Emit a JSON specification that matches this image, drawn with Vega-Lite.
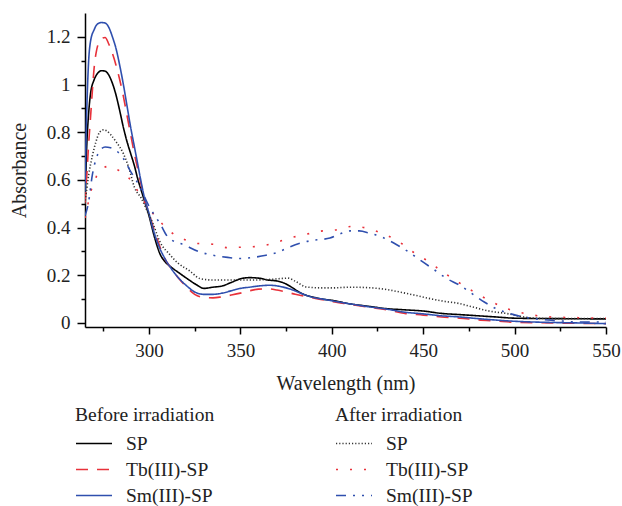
{
  "$schema": "https://vega.github.io/schema/vega-lite/v6.json",
  "autosize": "none",
  "width": 521,
  "height": 314,
  "padding": {"left": 85, "top": 13, "right": 16, "bottom": 179},
  "config": {
    "font": "Liberation Serif",
    "view": {"stroke": null},
    "axis": {
      "grid": false,
      "domainColor": "#000000",
      "domainWidth": 1.5,
      "tickColor": "#000000",
      "tickWidth": 1.5,
      "labelFontSize": 19,
      "labelColor": "#222222",
      "titleFontSize": 20,
      "titleFontWeight": "normal",
      "titleColor": "#222222"
    },
    "legend": {
      "titleFontSize": 19.5,
      "titleFontWeight": "normal",
      "titleColor": "#222222",
      "labelFontSize": 19.5,
      "labelColor": "#222222"
    }
  },
  "datasets": {
    "before": [
      {"s":"SP","w":265,"a":0.5},{"s":"SP","w":266,"a":0.75},{"s":"SP","w":267,"a":0.88},{"s":"SP","w":268,"a":0.96},{"s":"SP","w":270,"a":1.02},{"s":"SP","w":272,"a":1.048},{"s":"SP","w":274,"a":1.058},{"s":"SP","w":276,"a":1.056},{"s":"SP","w":278,"a":1.04},{"s":"SP","w":280,"a":1.005},{"s":"SP","w":282,"a":0.955},{"s":"SP","w":284,"a":0.89},{"s":"SP","w":286,"a":0.82},{"s":"SP","w":288,"a":0.76},{"s":"SP","w":290,"a":0.71},{"s":"SP","w":292,"a":0.66},{"s":"SP","w":294,"a":0.6},{"s":"SP","w":296,"a":0.55},{"s":"SP","w":298,"a":0.5},{"s":"SP","w":300,"a":0.45},{"s":"SP","w":303,"a":0.36},{"s":"SP","w":306,"a":0.29},{"s":"SP","w":309,"a":0.255},{"s":"SP","w":312,"a":0.235},{"s":"SP","w":317,"a":0.207},{"s":"SP","w":322,"a":0.18},{"s":"SP","w":326,"a":0.16},{"s":"SP","w":330,"a":0.145},{"s":"SP","w":335,"a":0.15},{"s":"SP","w":340,"a":0.155},{"s":"SP","w":345,"a":0.17},{"s":"SP","w":350,"a":0.185},{"s":"SP","w":355,"a":0.19},{"s":"SP","w":360,"a":0.188},{"s":"SP","w":365,"a":0.18},{"s":"SP","w":370,"a":0.176},{"s":"SP","w":373,"a":0.17},{"s":"SP","w":378,"a":0.15},{"s":"SP","w":382,"a":0.13},{"s":"SP","w":386,"a":0.116},{"s":"SP","w":390,"a":0.108},{"s":"SP","w":395,"a":0.1},{"s":"SP","w":400,"a":0.095},{"s":"SP","w":410,"a":0.08},{"s":"SP","w":420,"a":0.07},{"s":"SP","w":430,"a":0.06},{"s":"SP","w":440,"a":0.055},{"s":"SP","w":450,"a":0.05},{"s":"SP","w":460,"a":0.04},{"s":"SP","w":470,"a":0.035},{"s":"SP","w":480,"a":0.03},{"s":"SP","w":490,"a":0.025},{"s":"SP","w":500,"a":0.02},{"s":"SP","w":525,"a":0.018},{"s":"SP","w":550,"a":0.017},
      {"s":"Tb(III)-SP","w":265,"a":0.5},{"s":"Tb(III)-SP","w":266,"a":0.62},{"s":"Tb(III)-SP","w":267,"a":0.75},{"s":"Tb(III)-SP","w":268,"a":0.86},{"s":"Tb(III)-SP","w":269,"a":0.97},{"s":"Tb(III)-SP","w":270,"a":1.07},{"s":"Tb(III)-SP","w":271,"a":1.13},{"s":"Tb(III)-SP","w":272,"a":1.165},{"s":"Tb(III)-SP","w":274,"a":1.192},{"s":"Tb(III)-SP","w":276,"a":1.197},{"s":"Tb(III)-SP","w":278,"a":1.17},{"s":"Tb(III)-SP","w":280,"a":1.13},{"s":"Tb(III)-SP","w":282,"a":1.08},{"s":"Tb(III)-SP","w":284,"a":1.02},{"s":"Tb(III)-SP","w":286,"a":0.95},{"s":"Tb(III)-SP","w":288,"a":0.87},{"s":"Tb(III)-SP","w":290,"a":0.79},{"s":"Tb(III)-SP","w":292,"a":0.71},{"s":"Tb(III)-SP","w":294,"a":0.64},{"s":"Tb(III)-SP","w":296,"a":0.57},{"s":"Tb(III)-SP","w":298,"a":0.51},{"s":"Tb(III)-SP","w":300,"a":0.46},{"s":"Tb(III)-SP","w":302,"a":0.41},{"s":"Tb(III)-SP","w":305,"a":0.34},{"s":"Tb(III)-SP","w":308,"a":0.28},{"s":"Tb(III)-SP","w":312,"a":0.23},{"s":"Tb(III)-SP","w":316,"a":0.19},{"s":"Tb(III)-SP","w":320,"a":0.155},{"s":"Tb(III)-SP","w":325,"a":0.12},{"s":"Tb(III)-SP","w":330,"a":0.107},{"s":"Tb(III)-SP","w":335,"a":0.105},{"s":"Tb(III)-SP","w":340,"a":0.11},{"s":"Tb(III)-SP","w":345,"a":0.117},{"s":"Tb(III)-SP","w":350,"a":0.125},{"s":"Tb(III)-SP","w":355,"a":0.135},{"s":"Tb(III)-SP","w":360,"a":0.142},{"s":"Tb(III)-SP","w":365,"a":0.143},{"s":"Tb(III)-SP","w":370,"a":0.138},{"s":"Tb(III)-SP","w":375,"a":0.13},{"s":"Tb(III)-SP","w":380,"a":0.12},{"s":"Tb(III)-SP","w":385,"a":0.112},{"s":"Tb(III)-SP","w":390,"a":0.105},{"s":"Tb(III)-SP","w":395,"a":0.097},{"s":"Tb(III)-SP","w":400,"a":0.09},{"s":"Tb(III)-SP","w":410,"a":0.078},{"s":"Tb(III)-SP","w":420,"a":0.066},{"s":"Tb(III)-SP","w":430,"a":0.055},{"s":"Tb(III)-SP","w":440,"a":0.04},{"s":"Tb(III)-SP","w":450,"a":0.033},{"s":"Tb(III)-SP","w":460,"a":0.025},{"s":"Tb(III)-SP","w":470,"a":0.02},{"s":"Tb(III)-SP","w":480,"a":0.013},{"s":"Tb(III)-SP","w":490,"a":0.008},{"s":"Tb(III)-SP","w":500,"a":0.003},{"s":"Tb(III)-SP","w":520,"a":0.0},{"s":"Tb(III)-SP","w":550,"a":-0.003},
      {"s":"Sm(III)-SP","w":265,"a":0.55},{"s":"Sm(III)-SP","w":265.5,"a":0.75},{"s":"Sm(III)-SP","w":266,"a":0.9},{"s":"Sm(III)-SP","w":267,"a":1.1},{"s":"Sm(III)-SP","w":268,"a":1.18},{"s":"Sm(III)-SP","w":270,"a":1.23},{"s":"Sm(III)-SP","w":272,"a":1.255},{"s":"Sm(III)-SP","w":274,"a":1.26},{"s":"Sm(III)-SP","w":276,"a":1.258},{"s":"Sm(III)-SP","w":278,"a":1.24},{"s":"Sm(III)-SP","w":280,"a":1.2},{"s":"Sm(III)-SP","w":282,"a":1.15},{"s":"Sm(III)-SP","w":284,"a":1.08},{"s":"Sm(III)-SP","w":286,"a":1.0},{"s":"Sm(III)-SP","w":288,"a":0.91},{"s":"Sm(III)-SP","w":290,"a":0.82},{"s":"Sm(III)-SP","w":292,"a":0.74},{"s":"Sm(III)-SP","w":294,"a":0.66},{"s":"Sm(III)-SP","w":296,"a":0.58},{"s":"Sm(III)-SP","w":298,"a":0.51},{"s":"Sm(III)-SP","w":300,"a":0.46},{"s":"Sm(III)-SP","w":302,"a":0.4},{"s":"Sm(III)-SP","w":305,"a":0.33},{"s":"Sm(III)-SP","w":308,"a":0.28},{"s":"Sm(III)-SP","w":312,"a":0.23},{"s":"Sm(III)-SP","w":316,"a":0.19},{"s":"Sm(III)-SP","w":320,"a":0.16},{"s":"Sm(III)-SP","w":325,"a":0.13},{"s":"Sm(III)-SP","w":330,"a":0.12},{"s":"Sm(III)-SP","w":335,"a":0.12},{"s":"Sm(III)-SP","w":340,"a":0.125},{"s":"Sm(III)-SP","w":345,"a":0.135},{"s":"Sm(III)-SP","w":350,"a":0.145},{"s":"Sm(III)-SP","w":355,"a":0.15},{"s":"Sm(III)-SP","w":360,"a":0.155},{"s":"Sm(III)-SP","w":366,"a":0.158},{"s":"Sm(III)-SP","w":373,"a":0.151},{"s":"Sm(III)-SP","w":378,"a":0.14},{"s":"Sm(III)-SP","w":382,"a":0.128},{"s":"Sm(III)-SP","w":386,"a":0.116},{"s":"Sm(III)-SP","w":390,"a":0.107},{"s":"Sm(III)-SP","w":395,"a":0.1},{"s":"Sm(III)-SP","w":400,"a":0.093},{"s":"Sm(III)-SP","w":410,"a":0.08},{"s":"Sm(III)-SP","w":420,"a":0.068},{"s":"Sm(III)-SP","w":430,"a":0.058},{"s":"Sm(III)-SP","w":440,"a":0.045},{"s":"Sm(III)-SP","w":450,"a":0.038},{"s":"Sm(III)-SP","w":460,"a":0.03},{"s":"Sm(III)-SP","w":470,"a":0.025},{"s":"Sm(III)-SP","w":480,"a":0.018},{"s":"Sm(III)-SP","w":490,"a":0.012},{"s":"Sm(III)-SP","w":500,"a":0.007},{"s":"Sm(III)-SP","w":510,"a":0.004},{"s":"Sm(III)-SP","w":520,"a":0.002},{"s":"Sm(III)-SP","w":535,"a":0.0},{"s":"Sm(III)-SP","w":550,"a":-0.003}
    ],
    "after": [
      {"s":"SP","w":265,"a":0.5},{"s":"SP","w":267,"a":0.62},{"s":"SP","w":269,"a":0.7},{"s":"SP","w":271,"a":0.76},{"s":"SP","w":273,"a":0.8},{"s":"SP","w":275,"a":0.81},{"s":"SP","w":277,"a":0.805},{"s":"SP","w":279,"a":0.79},{"s":"SP","w":282,"a":0.76},{"s":"SP","w":286,"a":0.71},{"s":"SP","w":289,"a":0.65},{"s":"SP","w":292,"a":0.57},{"s":"SP","w":296,"a":0.52},{"s":"SP","w":299,"a":0.47},{"s":"SP","w":302,"a":0.42},{"s":"SP","w":306,"a":0.34},{"s":"SP","w":311,"a":0.29},{"s":"SP","w":316,"a":0.25},{"s":"SP","w":322,"a":0.22},{"s":"SP","w":328,"a":0.186},{"s":"SP","w":335,"a":0.18},{"s":"SP","w":345,"a":0.18},{"s":"SP","w":355,"a":0.18},{"s":"SP","w":365,"a":0.182},{"s":"SP","w":372,"a":0.186},{"s":"SP","w":376,"a":0.188},{"s":"SP","w":380,"a":0.175},{"s":"SP","w":386,"a":0.151},{"s":"SP","w":395,"a":0.147},{"s":"SP","w":400,"a":0.147},{"s":"SP","w":410,"a":0.15},{"s":"SP","w":420,"a":0.148},{"s":"SP","w":430,"a":0.14},{"s":"SP","w":437,"a":0.13},{"s":"SP","w":445,"a":0.117},{"s":"SP","w":455,"a":0.1},{"s":"SP","w":462,"a":0.09},{"s":"SP","w":468,"a":0.084},{"s":"SP","w":477,"a":0.067},{"s":"SP","w":486,"a":0.05},{"s":"SP","w":496,"a":0.039},{"s":"SP","w":505,"a":0.025},{"s":"SP","w":515,"a":0.019},{"s":"SP","w":530,"a":0.018},{"s":"SP","w":550,"a":0.018},
      {"s":"Tb(III)-SP","w":265,"a":0.44},{"s":"Tb(III)-SP","w":266.3,"a":0.486},{"s":"Tb(III)-SP","w":267.7,"a":0.54},{"s":"Tb(III)-SP","w":270,"a":0.585},{"s":"Tb(III)-SP","w":272,"a":0.63},{"s":"Tb(III)-SP","w":275,"a":0.65},{"s":"Tb(III)-SP","w":278.7,"a":0.658},{"s":"Tb(III)-SP","w":282,"a":0.645},{"s":"Tb(III)-SP","w":287,"a":0.624},{"s":"Tb(III)-SP","w":292,"a":0.577},{"s":"Tb(III)-SP","w":295.5,"a":0.53},{"s":"Tb(III)-SP","w":300,"a":0.48},{"s":"Tb(III)-SP","w":305,"a":0.435},{"s":"Tb(III)-SP","w":310.6,"a":0.389},{"s":"Tb(III)-SP","w":318,"a":0.355},{"s":"Tb(III)-SP","w":327,"a":0.333},{"s":"Tb(III)-SP","w":335,"a":0.33},{"s":"Tb(III)-SP","w":343,"a":0.316},{"s":"Tb(III)-SP","w":351.5,"a":0.318},{"s":"Tb(III)-SP","w":360.7,"a":0.322},{"s":"Tb(III)-SP","w":368.5,"a":0.335},{"s":"Tb(III)-SP","w":376,"a":0.354},{"s":"Tb(III)-SP","w":385,"a":0.37},{"s":"Tb(III)-SP","w":394,"a":0.385},{"s":"Tb(III)-SP","w":402,"a":0.39},{"s":"Tb(III)-SP","w":411,"a":0.405},{"s":"Tb(III)-SP","w":419,"a":0.398},{"s":"Tb(III)-SP","w":427,"a":0.377},{"s":"Tb(III)-SP","w":435.5,"a":0.347},{"s":"Tb(III)-SP","w":444,"a":0.3},{"s":"Tb(III)-SP","w":452.6,"a":0.259},{"s":"Tb(III)-SP","w":460.7,"a":0.214},{"s":"Tb(III)-SP","w":469,"a":0.172},{"s":"Tb(III)-SP","w":477,"a":0.134},{"s":"Tb(III)-SP","w":486,"a":0.095},{"s":"Tb(III)-SP","w":494,"a":0.065},{"s":"Tb(III)-SP","w":503,"a":0.044},{"s":"Tb(III)-SP","w":511,"a":0.032},{"s":"Tb(III)-SP","w":520,"a":0.025},{"s":"Tb(III)-SP","w":535,"a":0.022},{"s":"Tb(III)-SP","w":550,"a":0.02},
      {"s":"Sm(III)-SP","w":265,"a":0.45},{"s":"Sm(III)-SP","w":266.8,"a":0.5},{"s":"Sm(III)-SP","w":269,"a":0.62},{"s":"Sm(III)-SP","w":271.4,"a":0.696},{"s":"Sm(III)-SP","w":274,"a":0.73},{"s":"Sm(III)-SP","w":276,"a":0.738},{"s":"Sm(III)-SP","w":279,"a":0.735},{"s":"Sm(III)-SP","w":283,"a":0.717},{"s":"Sm(III)-SP","w":286,"a":0.69},{"s":"Sm(III)-SP","w":289.6,"a":0.64},{"s":"Sm(III)-SP","w":294,"a":0.585},{"s":"Sm(III)-SP","w":300,"a":0.49},{"s":"Sm(III)-SP","w":306,"a":0.417},{"s":"Sm(III)-SP","w":310.6,"a":0.358},{"s":"Sm(III)-SP","w":319.7,"a":0.326},{"s":"Sm(III)-SP","w":327,"a":0.3},{"s":"Sm(III)-SP","w":335,"a":0.284},{"s":"Sm(III)-SP","w":343,"a":0.275},{"s":"Sm(III)-SP","w":350,"a":0.27},{"s":"Sm(III)-SP","w":357,"a":0.275},{"s":"Sm(III)-SP","w":364,"a":0.284},{"s":"Sm(III)-SP","w":370,"a":0.295},{"s":"Sm(III)-SP","w":377,"a":0.319},{"s":"Sm(III)-SP","w":383,"a":0.335},{"s":"Sm(III)-SP","w":390,"a":0.347},{"s":"Sm(III)-SP","w":394,"a":0.35},{"s":"Sm(III)-SP","w":399,"a":0.356},{"s":"Sm(III)-SP","w":405,"a":0.375},{"s":"Sm(III)-SP","w":410,"a":0.386},{"s":"Sm(III)-SP","w":415,"a":0.386},{"s":"Sm(III)-SP","w":420.5,"a":0.377},{"s":"Sm(III)-SP","w":428,"a":0.358},{"s":"Sm(III)-SP","w":436,"a":0.326},{"s":"Sm(III)-SP","w":442,"a":0.298},{"s":"Sm(III)-SP","w":449,"a":0.26},{"s":"Sm(III)-SP","w":457,"a":0.218},{"s":"Sm(III)-SP","w":462.5,"a":0.188},{"s":"Sm(III)-SP","w":470,"a":0.158},{"s":"Sm(III)-SP","w":478,"a":0.116},{"s":"Sm(III)-SP","w":483.4,"a":0.088},{"s":"Sm(III)-SP","w":491,"a":0.056},{"s":"Sm(III)-SP","w":499,"a":0.036},{"s":"Sm(III)-SP","w":505,"a":0.025},{"s":"Sm(III)-SP","w":520,"a":0.011},{"s":"Sm(III)-SP","w":526,"a":0.008},{"s":"Sm(III)-SP","w":534,"a":0.004},{"s":"Sm(III)-SP","w":550,"a":0.004}
    ]
  },
  "encoding": {
    "x": {
      "field": "w",
      "type": "quantitative",
      "scale": {"domain": [265, 550], "nice": false, "zero": false},
      "axis": {
        "title": "Wavelength (nm)",
        "values": [275, 300, 325, 350, 375, 400, 425, 450, 475, 500, 525, 550],
        "labelExpr": "datum.value % 50 === 0 ? datum.label : ''",
        "tickSize": {"condition": {"test": "datum.value % 50 === 0", "value": 7}, "value": 4},
        "labelPadding": 7,
        "titlePadding": 13,
        "labelFlush": false
      }
    },
    "y": {
      "field": "a",
      "type": "quantitative",
      "scale": {"domain": [-0.017, 1.3], "nice": false, "zero": false},
      "axis": {
        "title": "Absorbance",
        "values": [0, 0.1, 0.2, 0.3, 0.4, 0.5, 0.6, 0.7, 0.8, 0.9, 1, 1.1, 1.2],
        "format": "~g",
        "labelExpr": "round(datum.value * 10) % 2 === 0 ? datum.label : ''",
        "tickSize": {"condition": {"test": "round(datum.value * 10) % 2 === 0", "value": 8}, "value": 4},
        "labelPadding": 7,
        "titlePadding": 17,
        "labelFlush": false
      }
    }
  },
  "layer": [
    {
      "data": {"name": "before"},
      "mark": {"type": "line", "strokeWidth": 1.6, "interpolate": "monotone", "clip": true},
      "encoding": {
        "color": {
          "field": "s", "type": "nominal",
          "scale": {"domain": ["SP", "Tb(III)-SP", "Sm(III)-SP"], "range": ["#000000", "#e8313a", "#2f4fae"]},
          "legend": {"title": "Before irradiation", "orient": "none", "legendX": -10, "legendY": 393, "symbolType": "M-1,0H3", "symbolSize": 324, "symbolStrokeWidth": 1.6, "labelOffset": 31, "rowPadding": 6, "titlePadding": 8}
        },
        "strokeDash": {
          "field": "s", "type": "nominal",
          "scale": {"domain": ["SP", "Tb(III)-SP", "Sm(III)-SP"], "range": [[1, 0], [12, 9], [1, 0]]},
          "legend": {"title": "Before irradiation", "orient": "none", "legendX": -10, "legendY": 393, "symbolType": "M-1,0H3", "symbolSize": 324, "symbolStrokeWidth": 1.6, "labelOffset": 31, "rowPadding": 6, "titlePadding": 8}
        }
      }
    },
    {
      "data": {"name": "after"},
      "mark": {"type": "line", "strokeWidth": 1.6, "interpolate": "monotone", "clip": true},
      "encoding": {
        "color": {
          "field": "s", "type": "nominal",
          "scale": {"domain": ["SP", "Tb(III)-SP", "Sm(III)-SP"], "range": ["#333333", "#e8313a", "#2f4fae"]},
          "legend": {"title": "After irradiation", "orient": "none", "legendX": 250, "legendY": 393, "symbolType": "M-1,0H3", "symbolSize": 324, "symbolStrokeWidth": 1.6, "labelOffset": 31, "rowPadding": 6, "titlePadding": 8}
        },
        "strokeDash": {
          "field": "s", "type": "nominal",
          "scale": {"domain": ["SP", "Tb(III)-SP", "Sm(III)-SP"], "range": [[1.2, 2], [2, 12], [10, 7, 2, 7, 2, 7]]},
          "legend": {"title": "After irradiation", "orient": "none", "legendX": 250, "legendY": 393, "symbolType": "M-1,0H3", "symbolSize": 324, "symbolStrokeWidth": 1.6, "labelOffset": 31, "rowPadding": 6, "titlePadding": 8}
        }
      }
    }
  ],
  "resolve": {"scale": {"color": "independent", "strokeDash": "independent"}}
}
